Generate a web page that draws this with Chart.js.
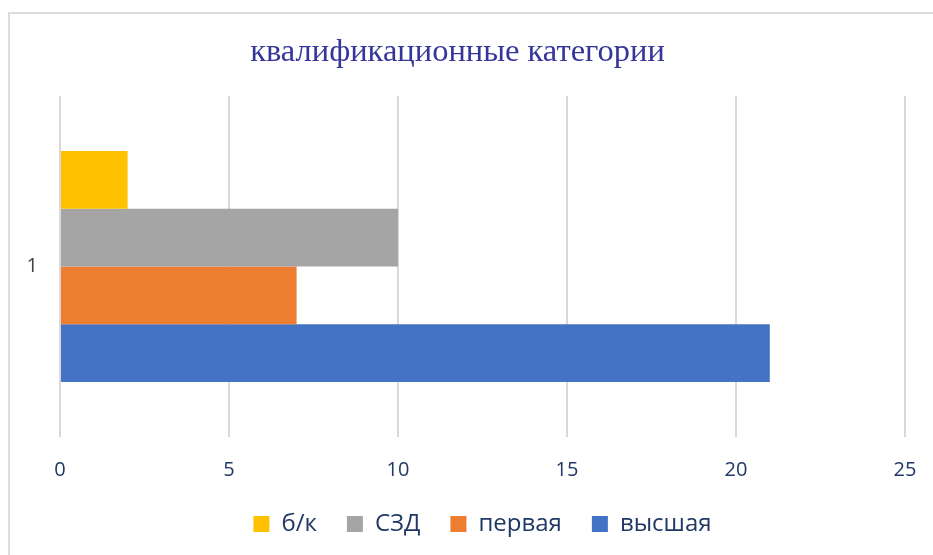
<!DOCTYPE html>
<html>
<head>
<meta charset="utf-8">
<script src="https://cdn.jsdelivr.net/npm/chart.js@4"></script>
<style>
  html, body { margin: 0; padding: 0; background: #fff; overflow: hidden; }
  #wrap {
    position: absolute; left: 8px; top: 12px;
    width: 923px; height: 541px;
    border-left: 2px solid #dcdcdc; border-top: 2px solid #dcdcdc;
  }
</style>
</head>
<body>
<div id="wrap"><canvas id="grafico"></canvas></div>
<script>
const titulo = "квалификационные категории";
const categorias = ["1"];
const series = ["б/к", "СЗД", "первая", "высшая"];
const valores = [[2], [10], [7], [21]];
const colores = ["#FFC000", "#A5A5A5", "#ED7D31", "#4472C4"];
const ticksX = [0, 5, 10, 15, 20, 25];

const azul = "#203864";

const datasets = series.map((nombre, i) => ({
  label: nombre,
  data: valores[i],
  backgroundColor: colores[i],
  borderWidth: 0,
  categoryPercentage: 0.677,
  barPercentage: 1,
}));

const config = {
  type: "bar",
  data: { labels: categorias, datasets: datasets },
  options: {
    indexAxis: "y",
    responsive: true,
    maintainAspectRatio: false,
    animation: false,
    layout: { padding: { left: 0, right: 28, top: 0, bottom: 9 } },
    scales: {
      x: {
        min: ticksX[0],
        max: ticksX[ticksX.length - 1],
        afterBuildTicks: (scale) => { scale.ticks = ticksX.map(v => ({ value: v })); },
        grid: { color: "#d9d9d9", lineWidth: 2, drawTicks: false },
        border: { display: false },
        ticks: { color: azul, padding: 21, font: { family: "Open Sans", size: 20 } },
        afterFit: (scale) => {
          scale.height = 45;
          scale.paddingLeft = 0;
          scale.paddingRight = 0;
        },
      },
      y: {
        grid: { display: false, drawTicks: false },
        border: { display: false },
        ticks: { color: "#404040", padding: 22, font: { family: "Open Sans", size: 20 } },
        afterFit: (scale) => { scale.width = 50; },
      },
    },
    plugins: {
      title: {
        display: true,
        text: titulo,
        color: "#35359a",
        font: { family: "Liberation Serif", size: 32.5, weight: "normal" },
        padding: { top: 18.5, bottom: 24.5 },
      },
      legend: {
        position: "bottom",
        fullSize: false,
        labels: {
          color: azul,
          boxWidth: 16,
          boxHeight: 16,
          padding: 30,
          font: { family: "Open Sans", size: 24 },
        },
      },
      tooltip: { enabled: false },
    },
  },
};

new Chart(document.getElementById("grafico"), config);
</script>
</body>
</html>
